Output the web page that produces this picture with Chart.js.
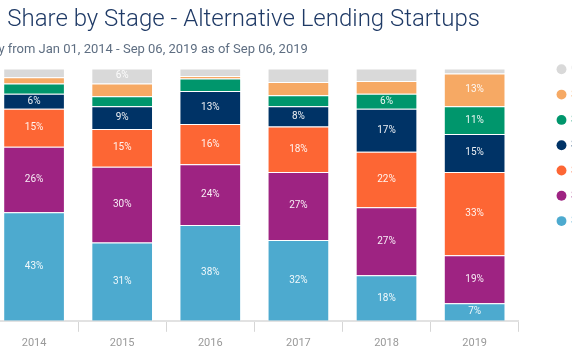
<!DOCTYPE html>
<html>
<head>
<meta charset="utf-8">
<script src="https://cdn.jsdelivr.net/npm/chart.js@4"></script>
<style>
  html, body { margin: 0; padding: 0; overflow: hidden; background: #fff; width: 572px; height: 364px; }
  #wrap { position: absolute; left: -60px; top: 0; width: 709px; height: 364px; }
</style>
</head>
<body>
<div id="wrap"><canvas id="chart"></canvas></div>
<script>
const years = ["2014", "2015", "2016", "2017", "2018", "2019"];
const stages = ["Seed / Angel", "Series A", "Series B", "Series C", "Series D", "Series E+", "Other"];
// share of deals, percent
const seedAngel = [43, 31, 38, 32, 18, 7];
const seriesA = [26, 30, 24, 27, 27, 19];
const seriesB = [15, 15, 16, 18, 22, 33];
const seriesC = [6, 9, 13, 8, 17, 15];
const seriesD = [4, 4, 5, 4.4, 6, 11];
const seriesE = [2.5, 5, 1, 5.2, 5, 13];
const other = [3.5, 6, 3, 5.4, 5, 2];
const colors = ["#4daacf", "#9e2382", "#fd6634", "#003366", "#00966c", "#f6a964", "#d9d9d9"];

const seriesValues = [seedAngel, seriesA, seriesB, seriesC, seriesD, seriesE, other];

const segmentLabels = {
  id: "segmentLabels",
  afterDatasetsDraw(chart) {
    const ctx = chart.ctx;
    ctx.save();
    ctx.font = "10px Roboto";
    ctx.fillStyle = "rgba(255,255,255,0.92)";
    ctx.textAlign = "center";
    ctx.textBaseline = "middle";
    chart.data.datasets.forEach((ds, i) => {
      const meta = chart.getDatasetMeta(i);
      if (meta.hidden) return;
      meta.data.forEach((bar, j) => {
        const v = ds.data[j];
        if (v < 5.8) return;
        ctx.fillText(Math.round(v) + "%", bar.x, (bar.y + bar.base) / 2);
      });
    });
    ctx.restore();
  },
};

new Chart(document.getElementById("chart"), {
  type: "bar",
  data: {
    labels: years,
    datasets: stages.map((s, i) => ({
      label: s,
      data: seriesValues[i],
      backgroundColor: colors[i],
      borderColor: "rgba(255,255,255,0.3)",
      borderWidth: 1,
      barPercentage: 0.7,
      categoryPercentage: 1,
    })),
  },
  options: {
    responsive: true,
    maintainAspectRatio: false,
    animation: false,
    layout: { padding: { left: 15, right: 0, bottom: 9 } },
    plugins: {
      tooltip: { enabled: false },
      title: {
        display: true,
        text: "Deal Share by Stage - Alternative Lending Startups",
        align: "start",
        color: "#1f3a66",
        font: { family: "Roboto", size: 24, weight: "300" },
        padding: { top: 6, bottom: 0 },
      },
      subtitle: {
        display: true,
        text: "Annually from Jan 01, 2014 - Sep 06, 2019 as of Sep 06, 2019",
        align: "start",
        color: "#5e6e82",
        font: { family: "Roboto", size: 13 },
        padding: { top: 7, bottom: 11 },
      },
      legend: {
        position: "right",
        align: "start",
        reverse: true,
        title: { display: true, text: "", font: { size: 12 }, padding: { top: 0, bottom: 35.6 } },
        labels: {
          usePointStyle: true,
          pointStyle: "circle",
          boxWidth: 7,
          boxHeight: 7,
          padding: 13.3,
          font: { family: "Roboto", size: 12 },
          generateLabels(chart) {
            const items = Chart.defaults.plugins.legend.labels.generateLabels(chart);
            items.forEach((it) => {
              it.fontColor = colors[it.datasetIndex];
              it.lineWidth = 0;
            });
            return items;
          },
        },
      },
    },
    scales: {
      x: {
        stacked: true,
        grid: { display: true, drawOnChartArea: false, tickLength: 11, color: "#d6d6d6" },
        border: { color: "#e2e2e2", width: 2 },
        ticks: { color: "#999", font: { family: "Roboto", size: 11 }, padding: 5 },
      },
      y: {
        stacked: true,
        min: 0,
        max: 100,
        ticks: { display: false },
        grid: { display: false },
        border: { display: false },
        afterFit(scale) {
          scale.width = 35;
        },
      },
      gap: {
        position: "right",
        display: true,
        ticks: { display: false },
        grid: { display: false },
        border: { display: false },
        afterFit(scale) {
          scale.width = 26;
        },
      },
    },
  },
  plugins: [segmentLabels],
});
</script>
</body>
</html>
